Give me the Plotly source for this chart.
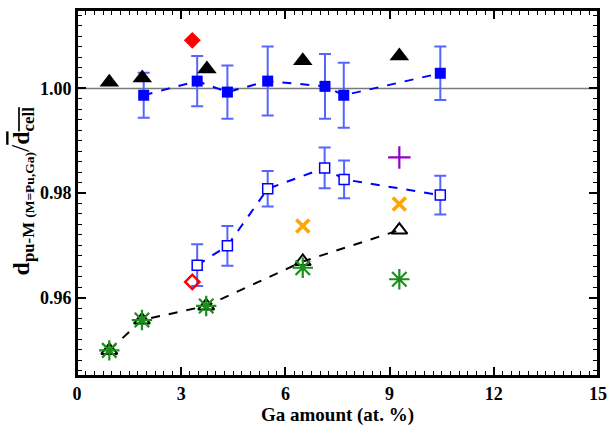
import plotly.graph_objects as go

# Filled blue squares (with error bars)
fill_sq_x = [1.92, 3.46, 4.33, 5.49, 7.14, 7.68, 10.46]
fill_sq_y = [0.9987, 1.0014, 0.9993, 1.0014, 1.0004, 0.9987, 1.0029]
fill_sq_err = [0.0043, 0.0048, 0.0051, 0.0066, 0.0062, 0.0062, 0.0051]

# Open blue squares (with error bars)
open_sq_x = [3.46, 4.33, 5.49, 7.13, 7.69, 10.46]
open_sq_y = [0.9662, 0.9699, 0.9808, 0.9848, 0.9826, 0.9796]
open_sq_err = [0.0040, 0.0038, 0.0034, 0.0039, 0.0036, 0.0037]

# Black filled triangles (upper)
fill_tri_x = [0.93, 1.88, 3.74, 6.50, 9.28]
fill_tri_y = [1.0012, 1.0020, 1.0037, 1.0053, 1.0062]

# Black open triangles (lower, dashed)
open_tri_x = [0.93, 1.87, 3.72, 6.50, 9.28]
open_tri_y = [0.9499, 0.9557, 0.9584, 0.9669, 0.9729]

# Green asterisks
ast_x = [0.93, 1.87, 3.72, 6.50, 9.28]
ast_y = [0.9499, 0.9557, 0.9584, 0.9657, 0.9635]

# Orange crosses
xm_x = [6.50, 9.28]
xm_y = [0.9737, 0.9779]

# Purple plus
plus_x = [9.28]
plus_y = [0.9868]

# Red diamonds
red_fill_x = [3.32]
red_fill_y = [1.0092]
red_open_x = [3.32]
red_open_y = [0.9630]

X_RANGE = [0, 15]
Y_RANGE = [0.945, 1.015]

FONT = "Liberation Serif"
BLUE = "#0000ff"
ERRC = "#5566ff"

fig = go.Figure()
fig.add_hline(y=1.0, line=dict(color="#7a7a7a", width=1.5), layer="below")

fig.add_trace(go.Scatter(
    x=fill_sq_x, y=fill_sq_y, mode="lines+markers",
    line=dict(color=BLUE, width=2, dash="dash"),
    marker=dict(symbol="square", size=11, color=BLUE),
    error_y=dict(type="data", array=fill_sq_err, color=ERRC, thickness=2, width=6),
))
fig.add_trace(go.Scatter(
    x=open_sq_x, y=open_sq_y, mode="lines+markers",
    line=dict(color=BLUE, width=2, dash="dash"),
    marker=dict(symbol="square", size=10, color="white", line=dict(color=BLUE, width=1.5)),
    error_y=dict(type="data", array=open_sq_err, color=ERRC, thickness=2, width=6),
))
fig.add_trace(go.Scatter(
    x=open_tri_x, y=open_tri_y, mode="lines+markers",
    line=dict(color="black", width=2, dash="dash"),
    marker=dict(symbol="triangle-up-open", size=14, color="black", line=dict(width=2)),
))
fig.add_trace(go.Scatter(
    x=ast_x, y=ast_y, mode="markers",
    marker=dict(symbol="asterisk-open", size=17, color="#1a8f1a", line=dict(width=2.2, color="#1a8f1a")),
))
fig.add_trace(go.Scatter(
    x=red_open_x, y=red_open_y, mode="markers",
    marker=dict(symbol="diamond-open", size=11, color="red", line=dict(width=2.5, color="red")),
))
fig.add_trace(go.Scatter(
    x=red_fill_x, y=red_fill_y, mode="markers",
    marker=dict(symbol="diamond", size=13, color="red"),
))
fig.add_trace(go.Scatter(
    x=xm_x, y=xm_y, mode="markers",
    marker=dict(symbol="x-thin-open", size=13, color="#ffa500", line=dict(width=3.5, color="#ffa500")),
))
fig.add_trace(go.Scatter(
    x=plus_x, y=plus_y, mode="markers",
    marker=dict(symbol="cross-thin-open", size=16, color="#9400c8", line=dict(width=2.2, color="#9400c8")),
))
fig.add_trace(go.Scatter(
    x=fill_tri_x, y=fill_tri_y, mode="markers",
    marker=dict(symbol="triangle-up", size=17, color="black"),
))

tickfont = dict(family=FONT, size=18, color="black", weight="bold")
axis_common = dict(
    showline=True, linecolor="black", linewidth=2, mirror="allticks",
    ticks="inside", ticklen=9, tickwidth=1.5, tickcolor="black",
    showgrid=False, zeroline=False, tickfont=tickfont,
)
xminor = dict(dtick=0.25, ticks="inside", ticklen=5, tickwidth=1.2, tickcolor="black")
yminor = dict(dtick=0.002, tick0=0.96, ticks="inside", ticklen=5, tickwidth=1.2, tickcolor="black")

fig.update_layout(
    xaxis=dict(
        range=X_RANGE, dtick=3, tick0=0, minor=xminor, ticklabeloverflow="allow",
        title=dict(text="<b>Ga amount (at. %)</b>", font=dict(family=FONT, size=19, color="black"), standoff=3),
        **axis_common,
    ),
    yaxis=dict(
        range=Y_RANGE, dtick=0.02, tick0=0.96, tickformat=".2f", minor=yminor,
        **axis_common,
    ),
)
# plot frame
fig.add_shape(type="rect", xref="paper", yref="paper", x0=0, x1=1, y0=0, y1=1,
              line=dict(color="black", width=2), layer="above")

ytitle = ("<b>d</b><sub><b>pu-M</b> <b><span style='font-size:13.5px'>(M=Pu,Ga)</span></b></sub>"
          "<span style='font-size:26px'>/</span>"
          "<span style='text-decoration:overline'><b>d</b><sub><b>cell</b></sub></span>")
fig.add_annotation(
    text=ytitle, textangle=-90, xref="paper", yref="paper",
    x=-0.105, y=0.505, xanchor="center", yanchor="middle", showarrow=False,
    font=dict(family=FONT, size=24, color="black"),
)

fig.update_layout(
    width=613, height=426,
    margin=dict(l=77, r=6, t=10, b=45),
    plot_bgcolor="white", paper_bgcolor="white",
    showlegend=False,
)

fig.write_html("out.html")
